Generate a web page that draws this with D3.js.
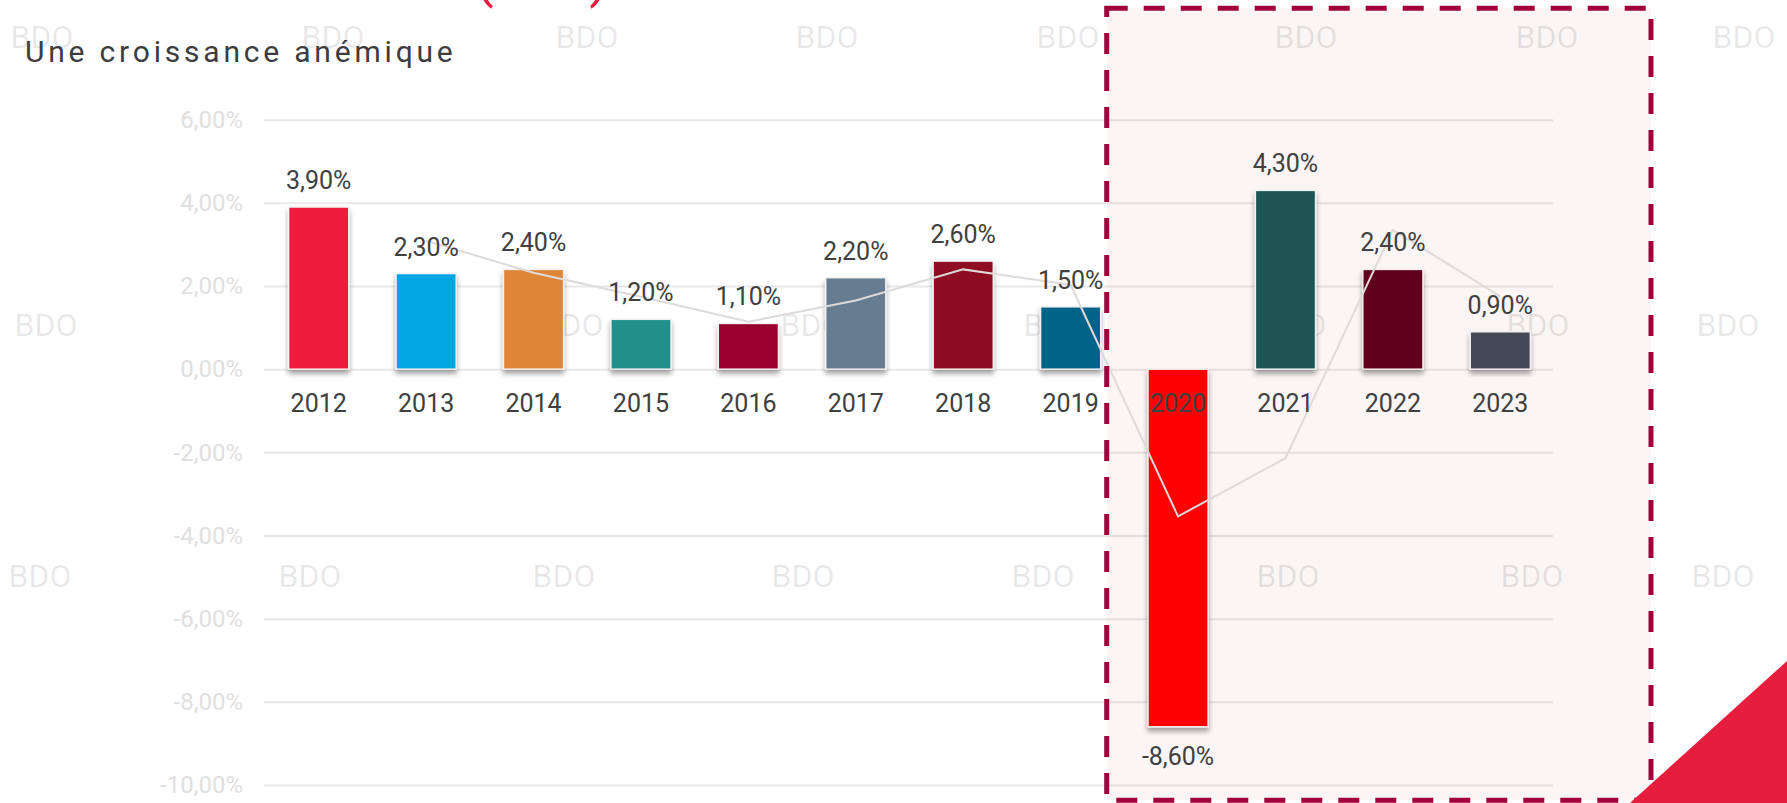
<!DOCTYPE html>
<html>
<head>
<meta charset="utf-8">
<script src="https://cdn.jsdelivr.net/npm/d3@7"></script>
<style>
  body { margin: 0; background: #fff; }
  svg text { font-family: Roboto, "Noto Sans", sans-serif; }
</style>
</head>
<body>
<div id="chart"></div>
<script>
// chart data
var years = ["2012", "2013", "2014", "2015", "2016", "2017", "2018", "2019", "2020", "2021", "2022", "2023"];
var growth = [3.9, 2.3, 2.4, 1.2, 1.1, 2.2, 2.6, 1.5, -8.6, 4.3, 2.4, 0.9];
var barColors = ["#ED1A3B", "#05A5E1", "#DF8538", "#21908A", "#98002E", "#657C91",
                 "#8E0C21", "#036388", "#FF0000", "#1B5553", "#5F001D", "#424855"];
// light grey trend line (starts in 2013)
var trendYears = ["2013", "2014", "2015", "2016", "2017", "2018", "2019", "2020", "2021", "2022", "2023"];
var trendValues = [3.09, 2.32, 1.74, 1.14, 1.65, 2.40, 2.03, -3.54, -2.14, 3.35, 1.75];
var yTicks = [6, 4, 2, 0, -2, -4, -6, -8, -10];
var title = "Une croissance anémique";
var watermark = "BDO";

//svg dimensions
var svgWidth = 1787;
var svgHeight = 803;
var plot = {left: 265, right: 1554, top: 119.7, bottom: 785};

// watermark layout (three rows)
var wmRows = [
  {y: 36, xs: [42, 333, 587, 827, 1068, 1306, 1547, 1744]},
  {y: 324, xs: [46, 426, 572, 812, 1055, 1295, 1538, 1728]},
  {y: 575, xs: [40, 310, 564, 803, 1043, 1288, 1532, 1723]}
];

// french number format, plain hyphen for negatives
var fr = d3.formatLocale({decimal: ",", thousands: " ", grouping: [3], currency: ["", " €"], minus: "-"});
var pct = function(v) { return fr.format(".2f")(v) + "%"; };

var svg = d3.select("#chart")
  .append("svg")
  .attr("width", svgWidth)
  .attr("height", svgHeight);

var defs = svg.append("defs");
defs.append("filter")
  .attr("id", "shadow")
  .attr("x", "-20%").attr("y", "-10%")
  .attr("width", "140%").attr("height", "130%")
  .append("feDropShadow")
  .attr("dx", 0).attr("dy", 4)
  .attr("stdDeviation", 2.5)
  .attr("flood-color", "#000")
  .attr("flood-opacity", 0.35);

// scales
var xScale = d3.scaleBand()
  .domain(years)
  .range([plot.left, plot.right])
  .paddingInner(0.44)
  .paddingOuter(0.22);

var yScale = d3.scaleLinear()
  .domain([-10, 6])
  .range([plot.bottom, plot.top]);

var bw = xScale.bandwidth();

// highlighted period box (fill first, border later)
var box = {x: 1106.7, y: 8.3, w: 544.3, h: 792};
svg.append("rect")
  .attr("x", box.x).attr("y", box.y)
  .attr("width", box.w).attr("height", box.h)
  .attr("fill", "#fbf5f5");

// grid lines
svg.append("g")
  .attr("transform", `translate(${plot.left - 1}, 0)`)
  .call(d3.axisLeft(yScale).tickValues(yTicks).tickSize(-(plot.right - plot.left)).tickFormat(""))
  .call(g => g.select(".domain").remove())
  .call(g => g.selectAll("line").attr("stroke", "#000").attr("stroke-opacity", 0.09).attr("stroke-width", 2));

// watermarks
wmRows.forEach(function(row) {
  svg.append("g").selectAll("text")
    .data(row.xs)
    .enter()
    .append("text")
    .attr("x", d => d)
    .attr("y", row.y)
    .attr("dy", "0.36em")
    .attr("text-anchor", "middle")
    .attr("font-size", 32)
    .attr("fill", "#000")
    .attr("fill-opacity", 0.09)
    .text(watermark);
});

// y labels
svg.append("g")
  .attr("transform", `translate(${plot.left - 1}, 0)`)
  .call(d3.axisLeft(yScale).tickValues(yTicks).tickSize(0).tickPadding(21).tickFormat(pct))
  .call(g => g.select(".domain").remove())
  .call(g => g.selectAll("text").attr("font-size", 24).attr("fill", "#e0e0e0").attr("font-family", null));

// bars
var barData = years.map((yr, i) => ({year: yr, value: growth[i], color: barColors[i]}));

svg.append("g").selectAll("rect")
  .data(barData)
  .enter()
  .append("rect")
  .attr("x", d => xScale(d.year))
  .attr("y", d => yScale(Math.max(0, d.value)))
  .attr("width", bw)
  .attr("height", d => Math.abs(yScale(d.value) - yScale(0)))
  .attr("fill", d => d.color)
  .attr("stroke", "#f4f0f0")
  .attr("stroke-width", 1.5)
  .attr("filter", "url(#shadow)");

// trend line
var trendData = trendYears.map((yr, i) => ({year: yr, value: trendValues[i]}));
var line = d3.line()
  .x(d => xScale(d.year) + bw / 2)
  .y(d => yScale(d.value));

svg.append("path")
  .datum(trendData)
  .attr("d", line)
  .attr("fill", "none")
  .attr("stroke", "#dedada")
  .attr("stroke-width", 2);

// value labels
svg.append("g").selectAll("text")
  .data(barData)
  .enter()
  .append("text")
  .attr("x", d => xScale(d.year) + bw / 2)
  .attr("y", d => d.value >= 0 ? yScale(d.value) - 18 : yScale(d.value) + 38)
  .attr("text-anchor", "middle")
  .attr("font-size", 25)
  .attr("fill", "#404040")
  .text(d => pct(d.value));

// year labels
svg.append("g")
  .attr("transform", `translate(0, ${yScale(0)})`)
  .call(d3.axisBottom(xScale).tickSize(0).tickPadding(24.6))
  .call(g => g.select(".domain").remove())
  .call(g => g.selectAll("text").attr("font-size", 25).attr("fill", "#404040").attr("font-family", null));

// dashed border of the box
svg.append("rect")
  .attr("x", box.x).attr("y", box.y)
  .attr("width", box.w).attr("height", box.h)
  .attr("fill", "none")
  .attr("stroke", "#a1003a")
  .attr("stroke-width", 5)
  .attr("stroke-dasharray", "21 16");

// red corner decoration
svg.append("path")
  .attr("d", "M1630,803L1787,661L1787,803Z")
  .attr("fill", "#e71d3e");

// title
svg.append("text")
  .attr("x", 25)
  .attr("y", 62)
  .attr("font-size", 30)
  .attr("letter-spacing", 3.8)
  .attr("fill", "#3d3d3d")
  .text(title);

// cut-off red brackets from the heading above
svg.append("text").attr("x", 484).attr("y", -4).attr("text-anchor", "middle")
  .attr("font-size", 56).attr("fill", "#ea1b3e").text("(");
svg.append("text").attr("x", 599).attr("y", -4).attr("text-anchor", "middle")
  .attr("font-size", 56).attr("fill", "#ea1b3e").text(")");
</script>
</body>
</html>
